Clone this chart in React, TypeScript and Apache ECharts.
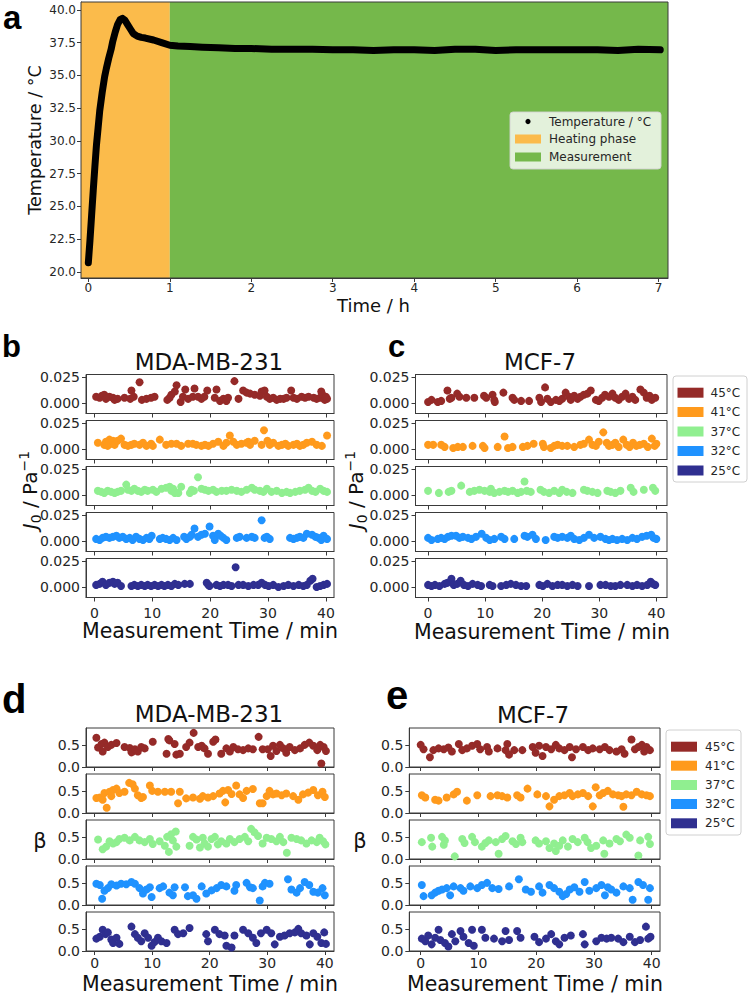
import React, { useEffect, useRef } from "react";
import * as echarts from "echarts";

// ---------- Panel a: temperature profile ----------
const tempTime = [0, 0.02, 0.04, 0.06, 0.08, 0.1, 0.12, 0.14, 0.17, 0.2, 0.22, 0.25, 0.28, 0.3, 0.33, 0.36, 0.39, 0.42, 0.45, 0.48, 0.52, 0.55, 0.6, 0.65, 0.7, 0.8, 0.9, 1.0, 1.1, 1.25, 1.4, 1.6, 1.8, 2.0, 2.25, 2.5, 2.75, 3.0, 3.25, 3.5, 3.75, 4.0, 4.25, 4.5, 4.75, 5.0, 5.25, 5.5, 5.75, 6.0, 6.25, 6.5, 6.75, 7.02];
const tempValue = [20.7, 22.4, 24.3, 26.2, 28.0, 29.7, 31.0, 32.3, 33.7, 34.9, 35.5, 36.3, 37.0, 37.6, 38.3, 38.9, 39.25, 39.35, 39.2, 38.9, 38.5, 38.2, 38.0, 37.9, 37.85, 37.7, 37.5, 37.3, 37.25, 37.2, 37.15, 37.1, 37.05, 37.05, 37.0, 37.0, 37.0, 36.95, 36.95, 36.9, 36.95, 36.95, 36.9, 37.0, 37.0, 36.9, 36.95, 36.95, 36.95, 36.95, 36.95, 36.9, 37.0, 36.95];
const tempTicks = [20, 22.5, 25, 27.5, 30, 32.5, 35, 37.5, 40];
const hourTicks = [0, 1, 2, 3, 4, 5, 6, 7];
const heatingEnd = 1; // h
const legendA = ["Temperature / °C", "Heating phase", "Measurement"];

// ---------- Panels b-e ----------
const tempLabels = ["45°C", "41°C", "37°C", "32°C", "25°C"];
const minuteTicks = [0, 10, 20, 30, 40];
const j0Ticks = [0, 0.025];
const betaTicks = [0, 0.5];

// J0 MDA-MB-231 (panel b)
const mdaJ45 = [[0.3,.006],[0.9,.005],[1.3,.007],[1.7,.008],[2.0,.004],[2.6,.006],[3.2,.005],[3.5,.003],[4.0,.004],[5.2,.005],[6.2,.004],[6.4,.012],[6.8,.006],[7.8,.020],[8.2,.003],[9.0,.004],[9.8,.005],[10.4,.006],[12.6,.003],[13.0,.005],[13.3,.008],[13.9,.011],[14.2,.017],[14.9,.001],[15.3,.006],[15.7,.013],[16.2,.004],[17.0,.006],[17.3,.014],[17.9,.006],[18.5,.004],[19.0,.006],[19.5,.012],[20.8,.005],[21.1,.013],[21.7,.002],[22.3,.004],[22.8,.002],[23.1,.005],[24.2,.021],[24.9,.004],[25.7,.012],[26.3,.010],[26.9,.009],[27.7,.008],[28.6,.007],[28.9,.011],[29.4,.012],[29.8,.006],[30.3,.004],[30.9,.005],[31.5,.003],[32.1,.004],[32.7,.004],[33.2,.005],[34.0,.012],[34.4,.005],[35.0,.004],[35.8,.006],[36.4,.005],[37.0,.006],[37.9,.005],[38.4,.004],[39.0,.005],[39.2,.011],[39.4,.008],[39.8,.003],[40.0,.006],[40.2,.004]];
const mdaJ41 = [[0.6,.006],[1.7,.004],[2.0,.007],[2.3,.003],[2.6,.009],[2.9,.005],[3.2,.008],[3.5,.004],[4.0,.008],[4.6,.010],[5.2,.004],[5.8,.003],[6.4,.004],[6.9,.005],[7.8,.004],[8.4,.006],[9.0,.003],[9.8,.005],[10.1,.003],[11.3,.009],[12.4,.004],[13.3,.005],[14.2,.005],[15.0,.003],[16.2,.005],[17.0,.005],[17.6,.004],[18.5,.003],[19.1,.004],[19.7,.003],[20.5,.005],[21.4,.007],[22.3,.003],[22.8,.006],[23.4,.013],[24.0,.007],[24.6,.004],[25.4,.005],[26.3,.006],[26.6,.007],[26.9,.004],[27.7,.008],[28.9,.004],[29.3,.018],[29.9,.008],[30.3,.004],[30.9,.006],[31.8,.003],[32.4,.004],[33.0,.005],[33.5,.003],[34.4,.004],[35.0,.005],[35.5,.003],[36.1,.004],[36.7,.006],[37.6,.007],[38.4,.004],[39.3,.003],[40.2,.013]];
const mdaJ37 = [[0.6,.004],[1.2,.003],[1.7,.002],[2.3,.004],[2.9,.003],[3.5,.002],[4.0,.003],[4.6,.004],[5.5,.010],[5.8,.005],[6.4,.004],[6.9,.006],[7.5,.004],[8.1,.003],[8.7,.005],[9.2,.004],[10.1,.005],[10.7,.003],[11.6,.006],[12.4,.007],[13.0,.008],[13.3,.004],[13.6,.006],[13.9,.002],[14.5,.002],[15.0,.008],[16.5,.002],[16.8,.005],[17.2,.004],[17.9,.017],[18.5,.006],[19.1,.005],[19.7,.004],[20.5,.005],[21.1,.003],[22.0,.004],[22.8,.004],[23.7,.005],[24.6,.004],[25.4,.003],[26.3,.005],[27.2,.007],[27.7,.005],[28.6,.004],[29.2,.003],[29.8,.006],[30.6,.003],[31.5,.004],[32.4,.002],[33.2,.003],[33.8,.002],[34.7,.003],[35.5,.004],[36.4,.005],[37.0,.007],[37.6,.004],[38.2,.003],[39.0,.006],[39.6,.004],[40.2,.003]];
const mdaJ32 = [[0.3,.002],[0.9,.001],[1.4,.003],[2.0,.004],[2.6,.003],[3.2,.004],[3.8,.005],[4.3,.003],[4.9,.004],[5.5,.002],[6.1,.003],[6.6,.001],[7.2,.004],[7.8,.002],[8.4,.001],[9.0,.003],[9.5,.002],[9.9,.005],[11.3,.002],[11.8,.003],[12.4,.002],[13.0,.001],[13.6,.003],[14.2,.001],[15.5,.004],[15.9,.002],[16.5,.004],[16.8,.006],[17.3,.012],[17.9,.004],[18.5,.006],[19.1,.007],[19.9,.014],[20.5,.005],[20.8,.001],[21.4,.007],[21.8,.005],[22.3,.003],[22.8,.001],[24.6,.003],[25.1,.004],[26.3,.003],[27.2,.004],[27.7,.003],[28.9,.020],[29.4,.003],[29.8,.004],[30.3,.002],[33.8,.003],[34.4,.002],[35.0,.003],[35.5,.004],[36.1,.003],[36.7,.007],[37.6,.006],[38.2,.004],[38.7,.003],[39.2,.001],[39.6,.005],[40.2,.002]];
const mdaJ25 = [[0.3,.002],[0.9,.003],[1.4,.005],[2.0,.002],[2.6,.004],[3.2,.005],[3.5,.003],[4.0,.004],[4.6,.001],[6.4,.001],[6.9,.002],[7.5,.001],[8.1,.002],[8.7,.001],[9.2,.002],[9.8,.001],[10.4,.002],[11.0,.001],[11.6,.002],[12.1,.001],[12.7,.002],[13.3,.001],[13.9,.003],[14.5,.002],[15.6,.003],[16.5,.003],[19.4,.004],[19.7,.002],[19.9,.001],[21.1,.002],[21.7,.001],[22.3,.002],[23.1,.002],[23.7,.001],[24.4,.019],[24.9,.002],[25.7,.002],[26.6,.001],[27.5,.002],[28.3,.002],[28.9,.004],[29.5,.002],[30.1,.001],[30.9,.002],[31.8,.000],[32.7,.001],[33.5,.002],[34.4,.001],[35.3,.002],[36.1,.001],[36.7,.002],[37.3,.006],[37.7,.008],[38.4,.000],[39.0,.001],[39.6,.002],[40.2,.003]];

// J0 MCF-7 (panel c)
const mcfJ45 = [[0.0,.001],[0.6,.003],[1.7,.001],[2.3,.002],[3.4,.012],[3.8,.004],[4.1,.005],[5.1,.009],[5.5,.006],[6.7,.005],[8.1,.005],[9.8,.007],[10.2,.005],[11.3,.008],[11.6,.003],[11.7,.001],[13.2,.010],[14.8,.005],[15.1,.003],[16.3,.002],[17.7,.002],[19.5,.005],[19.8,.001],[20.5,.015],[20.9,.004],[21.5,.001],[22.4,.003],[23.0,.002],[23.5,.004],[24.1,.010],[24.7,.006],[25.0,.003],[25.6,.007],[26.2,.004],[26.7,.006],[27.3,.008],[27.9,.009],[28.5,.012],[29.4,.003],[29.9,.002],[30.5,.005],[31.0,.008],[31.7,.006],[32.3,.009],[32.8,.005],[33.4,.003],[34.0,.006],[34.6,.009],[35.2,.004],[35.8,.006],[36.3,.003],[37.2,.013],[37.8,.010],[38.3,.005],[38.8,.007],[39.2,.003],[39.8,.005]];
const mcfJ41 = [[0.0,.004],[0.9,.004],[2.3,.004],[2.9,.002],[4.4,.001],[5.2,.002],[6.1,.002],[7.8,.003],[9.6,.003],[9.9,.001],[12.2,.002],[13.4,.012],[14.0,.001],[14.8,.002],[16.6,.002],[17.4,.003],[18.5,.005],[20.1,.005],[20.3,.002],[21.5,.001],[22.1,.003],[22.7,.004],[23.5,.003],[24.4,.003],[25.6,.002],[26.7,.004],[27.3,.005],[28.2,.009],[28.8,.004],[29.4,.003],[29.9,.007],[30.7,.016],[31.3,.006],[31.7,.003],[32.3,.004],[32.8,.006],[33.4,.002],[34.2,.009],[34.8,.004],[35.3,.002],[35.9,.006],[36.5,.003],[37.1,.004],[37.8,.005],[38.5,.002],[39.2,.010],[39.7,.003],[40.0,.005]];
const mcfJ37 = [[0.0,.004],[1.9,.002],[3.6,.003],[4.1,.004],[5.8,.009],[7.3,.003],[8.1,.004],[9.0,.005],[9.9,.004],[10.8,.003],[11.0,.006],[11.6,.002],[12.5,.003],[13.4,.004],[14.0,.003],[14.8,.004],[15.7,.002],[16.3,.003],[16.9,.013],[17.3,.004],[18.0,.003],[19.7,.005],[20.3,.003],[21.2,.002],[22.1,.004],[23.0,.002],[23.5,.005],[24.3,.003],[25.3,.002],[27.3,.005],[27.9,.004],[28.8,.003],[29.7,.002],[31.4,.004],[32.0,.003],[32.8,.002],[33.7,.004],[35.5,.007],[36.0,.003],[37.8,.005],[39.4,.007],[39.8,.004]];
const mcfJ32 = [[0.0,.003],[0.6,.001],[1.7,.002],[2.3,.003],[2.9,.002],[3.5,.004],[4.1,.005],[4.9,.005],[5.5,.003],[6.1,.004],[7.0,.003],[7.6,.002],[8.4,.004],[9.4,.007],[10.2,.003],[10.8,.001],[11.6,.002],[12.8,.004],[13.4,.002],[15.1,.002],[16.9,.005],[17.4,.004],[18.3,.006],[18.9,.002],[20.6,.001],[22.1,.004],[22.7,.003],[23.5,.004],[24.4,.003],[25.0,.005],[25.6,.002],[26.5,.001],[27.3,.003],[28.2,.006],[29.1,.003],[30.2,.004],[31.1,.002],[31.7,.001],[32.3,.002],[33.1,.001],[34.0,.002],[34.9,.001],[35.8,.003],[36.6,.002],[37.5,.004],[38.3,.005],[39.1,.006],[39.5,.003],[40.0,.002]];
const mcfJ25 = [[0.0,.002],[0.6,.001],[1.2,.002],[2.0,.001],[2.9,.003],[3.4,.004],[4.1,.008],[4.5,.002],[5.1,.003],[5.7,.006],[6.3,.002],[7.0,.001],[7.8,.003],[8.7,.002],[9.3,.001],[10.8,.002],[11.3,.001],[12.8,.001],[13.7,.002],[14.5,.003],[15.4,.002],[16.3,.001],[17.2,.001],[19.5,.002],[20.1,.001],[20.9,.003],[21.8,.001],[22.7,.002],[23.5,.002],[24.4,.001],[25.3,.002],[26.2,.001],[28.2,.001],[30.2,.002],[31.1,.002],[32.0,.001],[32.8,.001],[33.7,.002],[34.9,.002],[35.8,.001],[36.6,.002],[37.5,.001],[38.4,.002],[39.0,.005],[39.4,.003],[39.8,.002]];

// beta MDA-MB-231 (panel d)
const mdaB45 = [[0.3,.66],[0.6,.44],[1.2,.52],[1.4,.35],[1.7,.55],[2.3,.45],[2.9,.50],[3.8,.54],[5.2,.45],[6.1,.43],[6.4,.33],[7.0,.40],[7.5,.35],[8.1,.45],[8.7,.42],[10.1,.57],[12.5,.30],[12.8,.63],[13.0,.60],[13.9,.52],[14.2,.28],[14.8,.30],[15.9,.45],[16.5,.55],[17.2,.77],[18.0,.45],[18.6,.48],[19.1,.42],[19.7,.30],[20.6,.57],[21.0,.62],[22.0,.30],[22.9,.42],[23.5,.35],[24.1,.45],[24.9,.40],[25.8,.38],[26.7,.42],[27.5,.40],[28.5,.68],[29.2,.40],[30.1,.40],[30.6,.25],[31.0,.48],[31.6,.36],[32.2,.50],[32.8,.42],[33.3,.32],[33.9,.45],[34.8,.38],[35.7,.42],[36.5,.50],[37.3,.55],[38.0,.48],[38.7,.38],[39.2,.50],[39.4,.08],[39.8,.45],[40.2,.36]];
const mdaB41 = [[0.3,.34],[0.9,.35],[1.4,.30],[1.7,.45],[2.1,.12],[2.6,.48],[2.9,.38],[3.2,.52],[3.8,.55],[4.3,.45],[5.2,.48],[6.0,.68],[6.6,.65],[7.0,.55],[7.5,.40],[8.1,.34],[8.4,.36],[9.6,.62],[10.0,.50],[11.0,.48],[12.2,.48],[13.3,.48],[14.5,.22],[14.8,.48],[15.9,.33],[17.1,.35],[18.3,.32],[18.8,.38],[19.7,.35],[20.6,.38],[21.7,.44],[22.3,.50],[22.7,.24],[23.2,.52],[23.8,.43],[24.6,.62],[25.2,.42],[25.8,.34],[26.4,.50],[27.5,.54],[28.7,.22],[29.2,.22],[29.9,.38],[30.4,.50],[31.0,.42],[31.6,.44],[32.5,.40],[33.3,.44],[34.5,.38],[35.4,.30],[36.2,.42],[37.1,.46],[38.0,.52],[38.8,.40],[39.6,.48],[40.0,.36]];
const mdaB37 = [[0.6,.44],[1.4,.22],[2.0,.28],[2.6,.40],[3.2,.35],[3.8,.38],[4.3,.45],[5.2,.48],[6.1,.42],[7.0,.50],[7.8,.42],[8.7,.38],[9.6,.45],[10.1,.34],[11.3,.40],[12.2,.30],[12.6,.50],[12.9,.16],[13.3,.56],[13.6,.42],[14.1,.62],[14.2,.28],[16.5,.30],[17.1,.50],[17.7,.44],[18.3,.26],[18.8,.48],[19.1,.35],[19.7,.28],[20.3,.45],[20.9,.50],[21.4,.33],[22.0,.40],[22.9,.35],[23.5,.45],[24.3,.38],[25.2,.45],[26.1,.50],[26.7,.40],[27.2,.68],[27.8,.60],[28.4,.52],[29.2,.35],[29.9,.48],[30.7,.45],[31.6,.40],[32.2,.50],[32.8,.38],[33.4,.14],[34.2,.48],[35.1,.45],[35.9,.42],[36.8,.35],[37.7,.42],[38.6,.38],[39.1,.48],[39.7,.40],[40.1,.33]];
const mdaB32 = [[0.3,.48],[0.9,.45],[1.3,.14],[1.7,.32],[2.3,.38],[2.9,.47],[3.8,.44],[4.6,.48],[5.5,.47],[6.4,.52],[7.0,.48],[7.8,.38],[8.4,.26],[9.0,.35],[9.6,.40],[9.9,.18],[11.3,.38],[11.9,.42],[13.0,.28],[13.6,.22],[13.9,.40],[15.7,.40],[16.2,.20],[17.1,.22],[17.7,.14],[18.6,.42],[19.4,.26],[20.3,.33],[21.2,.38],[22.0,.45],[22.9,.42],[24.3,.32],[24.6,.45],[26.4,.50],[27.0,.40],[27.5,.38],[28.7,.10],[29.2,.42],[29.6,.50],[30.4,.48],[33.6,.58],[34.2,.35],[35.1,.28],[35.7,.38],[36.5,.52],[37.3,.45],[38.0,.30],[38.8,.28],[39.6,.38],[40.0,.22]];
const mdaB25 = [[0.3,.28],[0.9,.32],[1.4,.48],[1.9,.38],[2.3,.42],[2.9,.26],[3.2,.18],[3.8,.30],[4.3,.16],[6.4,.55],[7.0,.38],[7.5,.30],[8.1,.22],[8.7,.40],[9.3,.30],[9.9,.12],[10.4,.20],[11.0,.30],[11.6,.22],[12.5,.18],[13.9,.48],[14.5,.38],[15.4,.40],[16.5,.52],[19.4,.38],[19.7,.22],[20.9,.48],[21.7,.38],[22.6,.35],[22.9,.12],[23.8,.08],[24.3,.35],[25.8,.48],[26.7,.40],[27.5,.30],[28.1,.18],[28.9,.40],[29.9,.48],[30.7,.40],[31.3,.15],[32.2,.32],[33.0,.35],[33.9,.40],[34.8,.42],[35.4,.50],[35.9,.40],[36.8,.35],[37.4,.15],[38.0,.40],[38.7,.32],[39.4,.18],[39.9,.42],[40.2,.16]];

// beta MCF-7 (panel e)
const mcfB45 = [[0.0,.50],[0.5,.40],[1.6,.22],[2.2,.38],[3.1,.42],[4.0,.40],[4.8,.44],[5.4,.35],[6.6,.52],[7.2,.38],[8.0,.42],[8.9,.48],[9.8,.52],[10.3,.40],[11.5,.45],[11.8,.35],[13.3,.42],[14.7,.38],[15.0,.52],[15.3,.28],[16.2,.38],[17.6,.38],[19.4,.45],[19.9,.32],[20.5,.48],[21.1,.25],[21.7,.45],[22.6,.40],[23.4,.50],[24.0,.42],[24.9,.38],[25.8,.45],[26.2,.22],[26.9,.40],[28.1,.45],[29.0,.38],[29.8,.42],[31.0,.40],[31.9,.45],[32.7,.38],[33.9,.35],[34.8,.40],[35.3,.30],[36.5,.62],[37.1,.40],[37.7,.45],[38.3,.50],[38.7,.35],[39.1,.45],[39.7,.38]];
const mcfB41 = [[0.2,.40],[0.8,.35],[2.5,.30],[3.1,.28],[4.5,.35],[5.7,.42],[6.3,.48],[8.0,.28],[9.8,.40],[12.1,.38],[13.3,.40],[14.1,.38],[15.0,.35],[16.7,.40],[17.3,.35],[18.5,.55],[20.2,.42],[21.7,.38],[22.3,.15],[23.1,.30],[24.0,.38],[24.9,.40],[25.8,.45],[26.3,.38],[27.2,.42],[28.1,.45],[29.0,.38],[29.8,.15],[30.3,.58],[31.0,.40],[31.6,.45],[32.4,.50],[33.3,.42],[34.2,.40],[34.8,.38],[35.1,.14],[35.6,.42],[36.5,.40],[37.4,.48],[38.3,.42],[39.1,.40],[39.7,.38]];
const mcfB37 = [[0.2,.38],[1.8,.48],[2.0,.28],[3.7,.50],[4.0,.32],[4.2,.42],[5.9,.06],[7.2,.45],[7.6,.36],[8.9,.50],[9.4,.38],[10.6,.28],[11.2,.36],[11.8,.42],[13.0,.38],[13.5,.12],[14.1,.45],[14.7,.52],[15.9,.40],[16.5,.34],[17.3,.48],[17.6,.38],[19.9,.42],[20.5,.35],[21.7,.40],[22.3,.25],[23.1,.35],[23.4,.18],[24.0,.30],[24.6,.42],[25.5,.28],[26.3,.45],[27.2,.38],[28.4,.48],[28.9,.38],[29.5,.25],[30.4,.30],[31.6,.42],[31.8,.12],[32.7,.35],[33.9,.45],[34.5,.40],[35.6,.55],[36.2,.48],[37.7,.08],[38.0,.42],[39.4,.50],[39.7,.34]];
const mcfB32 = [[0.2,.45],[0.5,.20],[1.9,.22],[2.5,.28],[3.1,.32],[3.7,.35],[4.5,.38],[5.1,.22],[5.7,.42],[6.9,.38],[7.4,.32],[8.6,.42],[9.8,.38],[10.6,.45],[11.5,.50],[12.4,.38],[13.5,.36],[15.3,.42],[17.0,.58],[18.2,.35],[19.1,.30],[20.5,.42],[21.1,.28],[22.3,.45],[23.1,.38],[24.0,.30],[24.6,.20],[25.2,.25],[25.8,.35],[26.6,.40],[27.5,.30],[28.4,.52],[29.2,.32],[30.4,.38],[31.3,.45],[31.9,.22],[32.4,.40],[33.0,.35],[33.9,.28],[35.1,.42],[36.2,.38],[36.7,.12],[37.7,.52],[38.5,.45],[39.4,.12],[39.7,.38]];
const mcfB25 = [[0.2,.28],[0.8,.22],[1.3,.35],[1.9,.15],[2.5,.30],[3.1,.48],[3.4,.25],[4.2,.18],[4.8,.10],[5.4,.38],[6.0,.22],[6.9,.45],[7.4,.32],[8.3,.18],[8.9,.48],[9.2,.12],[10.6,.48],[11.2,.30],[12.7,.28],[14.1,.22],[14.7,.45],[15.3,.25],[16.7,.45],[17.3,.30],[19.7,.32],[20.5,.20],[21.7,.28],[22.6,.38],[23.4,.22],[24.0,.15],[24.9,.30],[26.0,.35],[28.1,.38],[28.4,.15],[30.4,.22],[31.3,.30],[32.2,.28],[33.0,.30],[34.2,.28],[35.1,.20],[36.2,.32],[37.1,.20],[38.0,.25],[39.0,.55],[39.4,.28],[39.8,.32]];

// ---------- styling ----------
const FONT = "DejaVu Sans";
const TXT = "#262626";
const AX = "#3a3a3a";
const colors = ["#952a28", "#ff9a1c", "#90ef90", "#1f92ff", "#2f2f90"];
const ORANGE = "#fbbb4b";
const GREEN = "#75b84b";

function buildOption() {
  const grid: any[] = [];
  const xAxis: any[] = [];
  const yAxis: any[] = [];
  const series: any[] = [];
  const graphic: any[] = [];

  const aXMin = -0.09, aXMax = 7.115;
  grid.push({ left: 81, top: 2, width: 587, height: 276, show: true, borderColor: AX, borderWidth: 1, backgroundColor: "transparent", z: 10, outerBoundsMode: "none" });
  xAxis.push({
    type: "value", gridIndex: 0, min: aXMin, max: aXMax, position: "bottom",
    axisLine: { show: true, onZero: false, lineStyle: { color: AX } }, splitLine: { show: false },
    axisTick: { show: true, inside: false, customValues: hourTicks, length: 4, lineStyle: { color: AX } },
    axisLabel: { customValues: hourTicks, fontSize: 12, color: TXT, fontFamily: FONT, margin: 4 },
  });
  yAxis.push({
    type: "value", gridIndex: 0, min: 19.54, max: 40.6, position: "left",
    axisLine: { show: true, onZero: false, lineStyle: { color: AX } }, splitLine: { show: false },
    axisTick: { show: true, inside: false, customValues: tempTicks, length: 4, lineStyle: { color: AX } },
    axisLabel: { customValues: tempTicks, fontSize: 12, color: TXT, fontFamily: FONT, margin: 5, formatter: (v: number) => v.toFixed(1) },
  });
  series.push({
    type: "line", name: legendA[0], xAxisIndex: 0, yAxisIndex: 0,
    data: tempTime.map((t, i) => [t, tempValue[i]]),
    showSymbol: false, smooth: false,
    lineStyle: { color: "#000", width: 7, cap: "round", join: "round" },
    markArea: {
      silent: true,
      data: [
        [{ xAxis: aXMin, itemStyle: { color: ORANGE, opacity: 1 } }, { xAxis: heatingEnd }],
        [{ xAxis: heatingEnd, itemStyle: { color: GREEN, opacity: 1 } }, { xAxis: aXMax }],
      ],
    },
  });

  const panels = [
    { data: [mdaJ45, mdaJ41, mdaJ37, mdaJ32, mdaJ25], left: 86, width: 248, xr: [-1.45, 41.4], top0: 374.5, beta: false, xm: 8 },
    { data: [mcfJ45, mcfJ41, mcfJ37, mcfJ32, mcfJ25], left: 415.5, width: 251.5, xr: [-2.2, 41.86], top0: 374.5, beta: false, xm: 8 },
    { data: [mdaB45, mdaB41, mdaB37, mdaB32, mdaB25], left: 86, width: 248, xr: [-1.5, 41.6], top0: 728, beta: true, xm: 5 },
    { data: [mcfB45, mcfB41, mcfB37, mcfB32, mcfB25], left: 409.3, width: 250.7, xr: [-1.97, 41.44], top0: 728, beta: true, xm: 5 },
  ];
  panels.forEach((p) => {
    p.data.forEach((d, s) => {
      const gi = grid.length;
      grid.push({ left: p.left, top: p.top0 + s * 46, width: p.width, height: 39, show: true, borderColor: AX, borderWidth: 1, backgroundColor: "transparent", outerBoundsMode: "none" });
      xAxis.push({
        type: "value", gridIndex: gi, min: p.xr[0], max: p.xr[1], position: "bottom",
        axisLine: { show: true, onZero: false, lineStyle: { color: AX } }, splitLine: { show: false },
        axisTick: { show: true, inside: false, customValues: minuteTicks, length: 4, lineStyle: { color: AX } },
        axisLabel: { show: s === 4, customValues: minuteTicks, fontSize: 14, color: TXT, fontFamily: FONT, margin: p.xm },
      });
      const ticks = p.beta ? betaTicks : j0Ticks;
      yAxis.push({
        type: "value", gridIndex: gi, position: "left",
        min: p.beta ? 0 : -0.0101, max: p.beta ? 0.88 : 0.0274,
        axisLine: { show: true, onZero: false, lineStyle: { color: AX } }, splitLine: { show: false },
        axisTick: { show: true, inside: false, customValues: ticks, length: 4, lineStyle: { color: AX } },
        axisLabel: { customValues: ticks, fontSize: 14, color: TXT, fontFamily: FONT, margin: 6, formatter: (v: number) => v.toFixed(p.beta ? 1 : 3) },
      });
      series.push({
        type: "scatter", name: tempLabels[s], xAxisIndex: gi, yAxisIndex: gi,
        data: d, symbolSize: 8, itemStyle: { color: colors[s], opacity: 1 },
      });
    });
  });

  const txt = (text: string, x: number, y: number, size: number, opts: any = {}) => ({
    type: "text", x, y, rotation: opts.rotation || 0, z: 100,
    style: { text, fill: opts.fill || "#111", font: `${opts.bold ? "bold " : ""}${size}px ${opts.family || FONT}`, textAlign: opts.align || "center", textVerticalAlign: "middle" },
  });

  // panel letters
  graphic.push(txt("a", 3, 17, 33, { bold: true, align: "left", family: "Liberation Sans", fill: "#000" }));
  graphic.push(txt("b", 2, 346, 31, { bold: true, align: "left", family: "Liberation Sans", fill: "#000" }));
  graphic.push(txt("c", 388, 346, 31, { bold: true, align: "left", family: "Liberation Sans", fill: "#000" }));
  graphic.push(txt("d", 2, 699, 40, { bold: true, align: "left", family: "Liberation Sans", fill: "#000" }));
  graphic.push(txt("e", 386, 695, 40, { bold: true, align: "left", family: "Liberation Sans", fill: "#000" }));

  // panel a axis titles
  graphic.push(txt("Time / h", 373.5, 305.5, 18));
  graphic.push(txt("Temperature / °C", 35, 140, 17.6, { rotation: Math.PI / 2 }));

  // titles
  graphic.push(txt("MDA-MB-231", 209, 361.5, 23));
  graphic.push(txt("MCF-7", 540, 361.5, 23));
  graphic.push(txt("MDA-MB-231", 209, 714, 23));
  graphic.push(txt("MCF-7", 533, 715, 23));

  // x axis titles
  graphic.push(txt("Measurement Time / min", 210, 631, 20.5));
  graphic.push(txt("Measurement Time / min", 542, 631.5, 20.5));
  graphic.push(txt("Measurement Time / min", 210, 984, 20.5));
  graphic.push(txt("Measurement Time / min", 535, 984, 20.5));

  // y axis titles
  const j0 = (x: number, y: number) => ({
    type: "text", x, y, rotation: Math.PI / 2, z: 100,
    style: {
      text: "{i|J}{s|0}{n| / Pa}{p|−1}", textAlign: "center", textVerticalAlign: "middle", fill: "#111",
      rich: {
        i: { fontFamily: FONT, fontStyle: "italic", fontSize: 20, lineHeight: 26, fill: "#111" },
        s: { fontFamily: FONT, fontSize: 14, lineHeight: 19, verticalAlign: "bottom", fill: "#111" },
        n: { fontFamily: FONT, fontSize: 20, lineHeight: 26, fill: "#111" },
        p: { fontFamily: FONT, fontSize: 14, lineHeight: 17, verticalAlign: "top", fill: "#111" },
      },
    },
  });
  graphic.push(j0(30, 490));
  graphic.push(j0(356, 490));
  graphic.push(txt("β", 40, 841, 21));
  graphic.push(txt("β", 360, 841, 21));

  // legend a
  graphic.push({ type: "rect", z: 90, shape: { x: 510, y: 112, width: 151, height: 57, r: 3 }, style: { fill: "rgba(255,255,255,0.8)", stroke: "rgba(210,210,210,0.9)", lineWidth: 1 } });
  graphic.push({ type: "circle", z: 95, shape: { cx: 528, cy: 121.5, r: 2.6 }, style: { fill: "#000" } });
  graphic.push({ type: "rect", z: 95, shape: { x: 515, y: 134.5, width: 26, height: 9 }, style: { fill: ORANGE } });
  graphic.push({ type: "rect", z: 95, shape: { x: 515, y: 152.5, width: 26, height: 9 }, style: { fill: GREEN } });
  graphic.push(txt(legendA[0], 549, 121.5, 12, { align: "left", fill: TXT }));
  graphic.push(txt(legendA[1], 549, 139, 12, { align: "left", fill: TXT }));
  graphic.push(txt(legendA[2], 549, 157, 12, { align: "left", fill: TXT }));

  // legends c and e
  const tempLegend = (bx: number, by: number, bw: number, bh: number, rx: number, rows: number[], tx: number) => {
    graphic.push({ type: "rect", z: 90, shape: { x: bx, y: by, width: bw, height: bh, r: 3 }, style: { fill: "#fff", stroke: "#d0d0d0", lineWidth: 1 } });
    tempLabels.forEach((l, i) => {
      graphic.push({ type: "rect", z: 95, shape: { x: rx, y: rows[i] - 5, width: 26, height: 10 }, style: { fill: colors[i] } });
      graphic.push(txt(l, tx, rows[i], 12, { align: "left", fill: TXT }));
    });
  };
  tempLegend(673, 376, 74, 106, 677.5, [392.7, 412, 431.5, 451, 470.5], 710.5);
  tempLegend(666, 730, 75, 105, 671, [746.7, 765.7, 785, 804, 823.3], 705);

  return {
    animation: false,
    backgroundColor: "#fff",
    textStyle: { fontFamily: FONT },
    grid, xAxis, yAxis, series, graphic,
  };
}

export default function App() {
  const ref = useRef<HTMLDivElement>(null);
  useEffect(() => {
    document.body.style.margin = "0";
    const chart = echarts.init(ref.current!, null, { renderer: "svg" });
    chart.setOption(buildOption() as any);
    return () => chart.dispose();
  }, []);
  return <div ref={ref} style={{ width: 750, height: 996 }} />;
}
